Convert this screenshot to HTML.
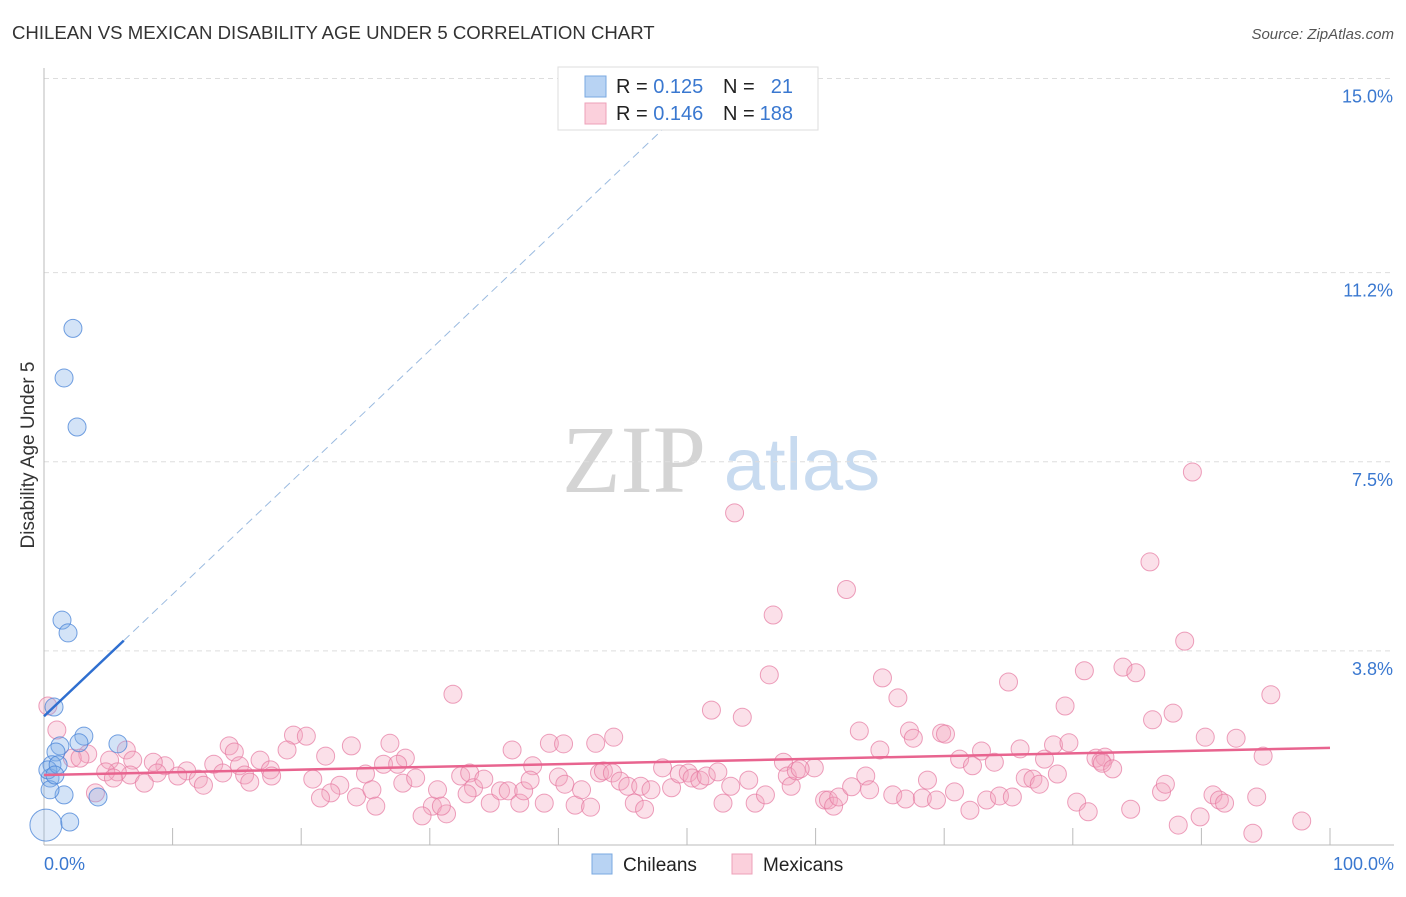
<!DOCTYPE html>
<html><head><meta charset="utf-8"><style>
body{margin:0;background:#fff;font-family:"Liberation Sans",sans-serif;}
</style></head><body>
<svg width="1406" height="892" xmlns="http://www.w3.org/2000/svg" font-family="Liberation Sans, sans-serif">
<text x="12" y="39" font-size="18.6" fill="#333">CHILEAN VS MEXICAN DISABILITY AGE UNDER 5 CORRELATION CHART</text>
<text x="1394" y="39" font-size="15" fill="#555" font-style="italic" text-anchor="end">Source: ZipAtlas.com</text>
<g>
<text x="634" y="492" font-size="96" fill="#d4d4d4" style="font-family:'Liberation Serif',serif" text-anchor="middle">ZIP</text>
<text x="802" y="490" font-size="74" fill="#c8dbf0" text-anchor="middle">atlas</text>
</g>
<g id="grid"></g>
<g id="axes"></g>
<g id="points"></g>
<g id="trends"></g>
<text x="34" y="455" font-size="19" fill="#333" text-anchor="middle" transform="rotate(-90 34 455)">Disability Age Under 5</text>
<text x="44" y="870" font-size="18" fill="#3a78d0">0.0%</text>
<text x="1394" y="870" font-size="18" fill="#3a78d0" text-anchor="end">100.0%</text>
<g>
<rect x="558" y="67" width="260" height="63" fill="#fff" stroke="#ddd"/>
<rect x="585" y="76" width="21" height="21" fill="#b8d3f3" stroke="#7aa8e0"/>
<rect x="585" y="103" width="21" height="21" fill="#fbd0dc" stroke="#eea0b8"/>
<text x="616" y="93" font-size="20" fill="#222">R = <tspan fill="#3a78d0">0.125</tspan></text>
<text x="723" y="93" font-size="20" fill="#222">N = </text><text x="793" y="93" font-size="20" fill="#3a78d0" text-anchor="end">21</text>
<text x="616" y="120" font-size="20" fill="#222">R = <tspan fill="#3a78d0">0.146</tspan></text>
<text x="723" y="120" font-size="20" fill="#222">N = </text><text x="793" y="120" font-size="20" fill="#3a78d0" text-anchor="end">188</text>
</g>
<g>
<rect x="592" y="854" width="20" height="20" fill="#b8d3f3" stroke="#7aa8e0"/>
<text x="623" y="871" font-size="19" fill="#222">Chileans</text>
<rect x="732" y="854" width="20" height="20" fill="#fbd0dc" stroke="#eea0b8"/>
<text x="763" y="871" font-size="19" fill="#222">Mexicans</text>
</g>
</svg>
<script>
const yTicks=[15.0,11.2,7.5,3.8];
const yTickLabels=["15.0%","11.2%","7.5%","3.8%"];
const xTicks=[10,20,30,40,50,60,70,80,90,100];
const blueX=[2.25,1.56,2.57,1.4,1.87,0.78,3.1,1.24,2.72,5.75,0.93,0.62,0.47,0.3,1.56,4.2,2.0,0.15,1.1,0.47,0.85];
const blueY=[10.11,9.14,8.18,4.4,4.15,2.7,2.13,1.94,2.0,1.98,1.82,1.57,1.31,1.47,0.98,0.94,0.45,0.39,1.57,1.08,1.37];
const pinkX=[53.7,89.3,86.0,62.4,56.7,88.7,56.4,65.2,80.9,83.9,84.9,75.0,31.8,66.4,95.4,51.9,54.3,79.4,87.8,86.2,63.4,67.3,67.6,69.8,70.1,90.3,92.7,0.3,1.0,19.4,20.4,44.3,26.9,23.9,39.3,40.4,42.9,36.4,14.4,14.8,6.4,18.9,21.9,28.1,75.9,78.5,79.7,65.0,72.9,94.8,81.8,82.5,82.2,77.8,71.2,73.9,82.3,83.1,72.2,59.9,57.5,48.1,38.0,26.4,27.5,16.8,13.2,9.4,8.5,6.9,3.4,2.2,2.8,5.1,15.2,17.6,15.6,13.9,11.1,10.4,6.7,5.7,4.8,8.8,12.0,12.4,7.8,5.4,16.0,4.0,17.7,20.9,23.0,25.0,22.3,24.3,21.5,25.5,25.8,27.9,28.9,30.2,30.6,31.3,32.4,33.1,33.4,32.9,34.2,34.7,35.5,36.1,37.0,37.3,37.8,38.9,40.0,40.5,41.3,41.8,42.5,43.2,43.5,44.2,44.8,45.4,45.9,46.4,47.2,46.7,48.8,49.4,50.1,50.4,51.0,51.5,52.4,52.8,53.4,54.8,55.3,56.1,57.8,58.1,58.5,58.8,60.7,61.0,61.4,61.8,62.8,63.9,64.2,66.0,67.0,68.3,68.7,69.4,70.8,72.0,73.3,74.3,75.3,76.3,76.9,77.4,78.8,80.3,81.2,84.5,86.9,87.2,88.2,89.9,90.9,91.4,91.8,94.0,94.3,97.8,29.4,30.9];
const pinkY=[6.5,7.3,5.54,5.0,4.5,3.99,3.33,3.27,3.41,3.48,3.37,3.19,2.95,2.88,2.94,2.64,2.5,2.72,2.58,2.45,2.23,2.23,2.09,2.19,2.17,2.11,2.09,2.72,2.25,2.15,2.13,2.11,1.99,1.94,1.99,1.98,1.99,1.86,1.94,1.82,1.86,1.86,1.74,1.7,1.88,1.96,2.0,1.86,1.84,1.74,1.7,1.72,1.64,1.68,1.68,1.62,1.6,1.49,1.55,1.51,1.62,1.51,1.55,1.58,1.58,1.66,1.58,1.55,1.62,1.66,1.78,1.7,1.7,1.66,1.55,1.47,1.37,1.41,1.45,1.35,1.37,1.43,1.43,1.41,1.29,1.17,1.21,1.31,1.23,1.02,1.35,1.29,1.17,1.39,1.02,0.94,0.92,1.08,0.76,1.21,1.31,0.76,1.08,0.61,1.35,1.41,1.12,1.0,1.29,0.82,1.06,1.06,0.82,1.06,1.27,0.82,1.33,1.19,0.78,1.08,0.74,1.41,1.45,1.41,1.25,1.15,0.82,1.15,1.08,0.7,1.12,1.39,1.41,1.31,1.27,1.35,1.43,0.82,1.15,1.27,0.82,0.98,1.35,1.15,1.45,1.49,0.88,0.88,0.76,0.94,1.14,1.35,1.08,0.98,0.9,0.92,1.27,0.88,1.04,0.68,0.88,0.96,0.94,1.31,1.29,1.19,1.39,0.84,0.65,0.7,1.04,1.19,0.39,0.55,0.98,0.88,0.82,0.23,0.94,0.47,0.57,0.76];
const blueTrend=[0,2.52,6.2,4.0];
const pinkTrend=[0,1.37,100,1.9];
const X=p=>44+p*12.86, Y=v=>845-v*51.1;
const NS="http://www.w3.org/2000/svg";
function mk(t,a,parent){const e=document.createElementNS(NS,t);for(const k in a)e.setAttribute(k,a[k]);document.getElementById(parent).appendChild(e);return e;}
yTicks.forEach((v,i)=>{
  const l=mk('line',{x1:44,x2:1394,y1:Y(v),y2:Y(v),stroke:'#ddd','stroke-dasharray':'5,4'},'grid');
  
  
  const t=mk('text',{x:1393,y:Y(v)+24,'font-size':18,fill:'#3a78d0','text-anchor':'end'},'grid');
  t.textContent=yTickLabels[i];
  
  
});
let a=mk('line',{x1:44,x2:44,y1:68,y2:845,stroke:'#bbb'},'axes');


a=mk('line',{x1:44,x2:1394,y1:845,y2:845,stroke:'#bbb'},'axes');


xTicks.forEach(p=>{const t=mk('line',{x1:X(p),x2:X(p),y1:828,y2:845,stroke:'#bbb'},'axes');
  
  });
pinkX.forEach((p,i)=>{const c=mk('circle',{cx:X(p),cy:Y(pinkY[i]),r:9,fill:'rgba(244,165,192,0.35)',stroke:'rgba(230,120,160,0.7)','stroke-width':1},'points');
  
  });
blueX.forEach((p,i)=>{const c=mk('circle',{cx:X(p),cy:Y(blueY[i]),r:i==17?16:9,fill:i==17?'rgba(130,175,232,0.25)':'rgba(130,175,232,0.35)',stroke:'rgba(70,130,215,0.75)','stroke-width':1},'points');
  
  });
const bs=(blueTrend[3]-blueTrend[1])/(blueTrend[2]-blueTrend[0]);
const yEnd=14.1;
const xe=(yEnd-blueTrend[1])/bs;
let l=mk('line',{x1:X(blueTrend[2]),y1:Y(blueTrend[3]),x2:X(xe),y2:Y(yEnd),stroke:'#9bbbe0','stroke-width':1,'stroke-dasharray':'8,5'},'trends');


l=mk('line',{x1:X(blueTrend[0]),y1:Y(blueTrend[1]),x2:X(blueTrend[2]),y2:Y(blueTrend[3]),stroke:'#2f6fd0','stroke-width':2.5},'trends');


l=mk('line',{x1:X(pinkTrend[0]),y1:Y(pinkTrend[1]),x2:X(pinkTrend[2]),y2:Y(pinkTrend[3]),stroke:'#e8648f','stroke-width':2.5},'trends');


</script>
</body></html>
